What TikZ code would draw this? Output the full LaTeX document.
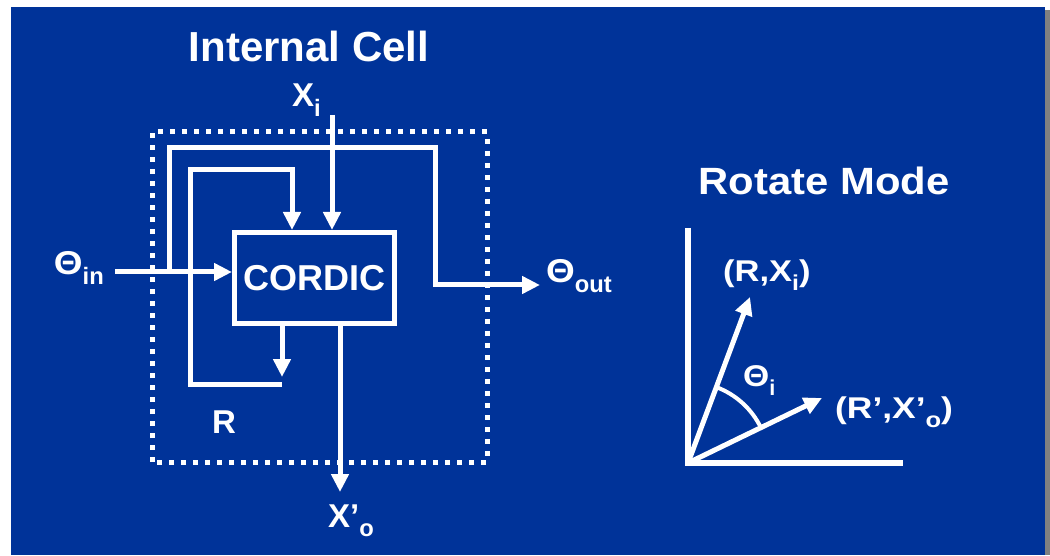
\documentclass[tikz,border=0pt]{standalone}
\usepackage{fontspec}
\setmainfont{Liberation Sans}
\usepackage{tikz}
\usetikzlibrary{arrows.meta, calc}

\definecolor{slideblue}{RGB}{0,51,153}
\newcommand{\lowsub}[1]{\raisebox{-0.3em}{\scalebox{0.72}{#1}}}
\newcommand{\wideth}{\scalebox{1.12}[1]{Θ}}

\begin{document}
\begin{tikzpicture}[x=1pt, y=1pt,
  wire/.style={white, line width=5pt},
  arr/.style={wire, -{Triangle[length=18pt, width=17pt]}},
  lbl/.style={text=white, font=\fontsize{33}{36}\selectfont\bfseries, inner sep=0pt},
  vlbl/.style={text=white, font=\fontsize{30}{34}\selectfont\bfseries, inner sep=0pt},
  title/.style={text=white, font=\fontsize{42}{46}\selectfont\bfseries, inner sep=0pt}]

% --- Background ---
\useasboundingbox (0,0) rectangle (1050,555);
\fill[white] (0,0) rectangle (1050,555);
\fill[slideblue] (11,0) rectangle (1045,548);
\fill[gray] (1045,0) rectangle (1050,545);

% --- Titles ---
\node[title, anchor=base] (celltitle) at (309,493) {Internal Cell};
\node[title, anchor=base, font=\fontsize{38}{42}\selectfont\bfseries] (modetitle) at (824,360)
  {\scalebox{1.1}[1]{Rotate Mode}};

% --- Cell boundary (dotted) ---
\draw[wire, dash pattern=on 5pt off 7pt] (152,93) rectangle (487,423);

% --- CORDIC block ---
\node[draw=white, line width=5pt, minimum width=160pt, minimum height=91pt,
  text=white, font=\fontsize{36}{40}\selectfont\bfseries, inner sep=0pt]
  (cordic) at (314.5,277) {CORDIC};

% --- Port labels ---
\node[lbl, anchor=base east] (thin) at (104,280) {\wideth\lowsub{in}};
\node[lbl, anchor=base west] (thout) at (546,272) {\wideth\lowsub{out}};
\node[lbl, anchor=base west] (xi) at (292,448) {X\lowsub{i}};
\node[lbl, anchor=base west] (xo) at (328,28) {X’\lowsub{o}};
\node[lbl, anchor=base west] (rlbl) at (212,122) {R};

% --- Angle path: in, around the block, out ---
\coordinate (tap) at (169,283);
\draw[arr] ([xshift=11pt, yshift=3pt]thin.base east) -- (cordic.west |- tap);
\draw[arr] (tap) |- (435,407) |- ([xshift=-6pt, yshift=-2pt]thout.base west);

% --- X input and output ---
\coordinate (xiin) at (332,440);
\draw[arr] (xiin) -- (xiin |- cordic.north);
\coordinate (xoend) at (340,63);
\draw[arr] (xoend |- cordic.south) -- (xoend);

% --- R register loop ---
\coordinate (rtap) at (282,178);
\coordinate (rback) at (282,171);
\coordinate (rin) at (292,385);
\draw[arr] (rtap |- cordic.south) -- (rtap);
\draw[arr] (rback) -| (190,385) -- (rin) -- (rin |- cordic.north);

% --- Rotate mode vectors ---
\coordinate (orig) at (688,92);
\coordinate (yaxis) at (688,327);
\coordinate (xaxis) at (903,92);
\draw[wire, line width=5.5pt] (yaxis) -- (orig) -- (xaxis);
\coordinate (vin) at (750,258);
\coordinate (vout) at (822,157);
\draw[arr] (orig) -- (vin);
\draw[arr] (orig) -- (vout);
\draw[wire, line width=4pt] ($(orig)+(69.5:81)$) arc[start angle=69.5, end angle=25.9, radius=81];

\node[vlbl, anchor=base west] (rxi) at (723,273) {\scalebox{1.15}[1]{(R,X\lowsub{i})}};
\node[vlbl, anchor=base west] (thi) at (743,168) {\wideth\lowsub{i}};
\node[vlbl, anchor=base west] (rxo) at (835,137) {\scalebox{1.18}[1]{(R’,X’\lowsub{o})}};

\end{tikzpicture}
\end{document}
